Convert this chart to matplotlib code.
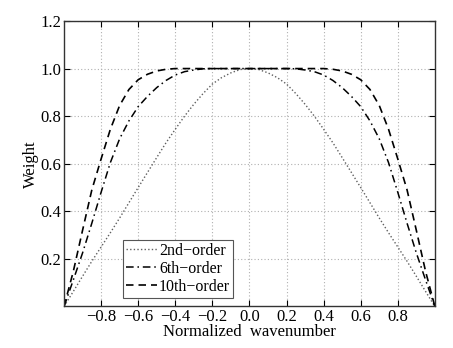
import matplotlib
matplotlib.use("Agg")
import matplotlib.pyplot as plt

plt.rcParams['font.family'] = ['Liberation Serif', 'DejaVu Serif']
plt.rcParams['axes.unicode_minus'] = True

x = [-1.0, -0.95, -0.9, -0.85, -0.8, -0.75, -0.7, -0.65, -0.6, -0.55, -0.5,
     -0.45, -0.4, -0.35, -0.3, -0.25, -0.2, -0.15, -0.1, -0.05, 0.0,
     0.05, 0.1, 0.15, 0.2, 0.25, 0.3, 0.35, 0.4, 0.45, 0.5,
     0.55, 0.6, 0.65, 0.7, 0.75, 0.8, 0.85, 0.9, 0.95, 1.0]

w2 = [0.0, 0.063, 0.127, 0.19, 0.25, 0.31, 0.372, 0.436, 0.50, 0.563, 0.626,
      0.688, 0.745, 0.80, 0.85, 0.895, 0.935, 0.962, 0.982, 0.996, 1.0,
      0.996, 0.982, 0.962, 0.935, 0.895, 0.85, 0.80, 0.745, 0.688, 0.626,
      0.563, 0.50, 0.436, 0.372, 0.31, 0.25, 0.19, 0.127, 0.063, 0.0]

w6 = [0.0, 0.111, 0.225, 0.35, 0.48, 0.605, 0.705, 0.78, 0.84, 0.883, 0.92,
      0.95, 0.973, 0.987, 0.994, 0.999, 1.0, 1.0, 1.0, 1.0, 1.0,
      1.0, 1.0, 1.0, 1.0, 0.999, 0.994, 0.987, 0.973, 0.95, 0.92,
      0.883, 0.84, 0.78, 0.705, 0.605, 0.48, 0.35, 0.225, 0.111, 0.0]

w10 = [0.0, 0.147, 0.32, 0.49, 0.62, 0.745, 0.845, 0.912, 0.953, 0.976, 0.99,
       0.997, 1.0, 1.0, 1.0, 1.0, 1.0, 1.0, 1.0, 1.0, 1.0,
       1.0, 1.0, 1.0, 1.0, 1.0, 1.0, 1.0, 1.0, 0.997, 0.99,
       0.976, 0.953, 0.912, 0.845, 0.745, 0.62, 0.49, 0.32, 0.147, 0.0]

labels = ['2nd\u2212order', '6th\u2212order', '10th\u2212order']
xticks = [-0.8, -0.6, -0.4, -0.2, 0.0, 0.2, 0.4, 0.6, 0.8]
yticks = [0.2, 0.4, 0.6, 0.8, 1.0, 1.2]

fig = plt.figure(figsize=(4.53, 3.48), dpi=100)
ax = fig.add_axes([0.1413, 0.1193, 0.8187, 0.8204])

ax.plot(x, w2, color='#606060', linestyle=(0, (1, 1.6)), linewidth=1.0, label=labels[0])
ax.plot(x, w6, color='black', linestyle=(0, (5, 2.5, 1, 2.5)), linewidth=1.1, label=labels[1])
ax.plot(x, w10, color='black', linestyle=(0, (4.5, 3)), linewidth=1.2, label=labels[2])

ax.set_xlim(-1, 1)
ax.set_ylim(0, 1.2)
ax.set_xticks(xticks)
ax.set_xticklabels(['%.1f' % v if v >= 0 else '\u2212%.1f' % abs(v) for v in xticks])
ax.set_yticks(yticks)
ax.set_yticklabels(['%.1f' % v for v in yticks])
ax.grid(True, color='#b0b0b0', linestyle=(0, (1, 2)), linewidth=0.8)
ax.tick_params(direction='in', top=True, right=True, labelsize=12, length=4, width=0.8)
ax.tick_params(axis='x', pad=2)
ax.tick_params(axis='y', pad=2)
for s in ax.spines.values():
    s.set_color('#333333')
    s.set_linewidth(1.0)

ax.set_xlabel('Normalized  wavenumber', fontsize=12, labelpad=-1)
ax.set_ylabel('Weight', fontsize=12, labelpad=1)

leg = ax.legend(loc='lower left', bbox_to_anchor=(0.159, 0.03), fontsize=11.5,
                frameon=True, fancybox=False, edgecolor='#555555', framealpha=1,
                handlelength=1.9, handletextpad=0.15, borderpad=0.2, labelspacing=0.12,
                borderaxespad=0)
leg.get_frame().set_linewidth(0.8)

fig.savefig('out.png', dpi=100)
